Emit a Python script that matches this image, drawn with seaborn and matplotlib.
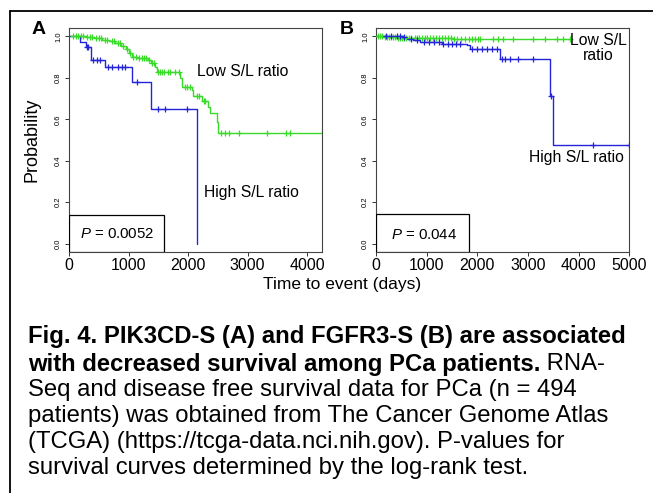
import numpy as np
import pandas as pd
import matplotlib
matplotlib.use("Agg")
import matplotlib.pyplot as plt
from matplotlib.lines import Line2D
from matplotlib.patches import Rectangle
import seaborn as sns

# Panel A (PIK3CD-S) - Kaplan-Meier steps
a_low_t = [0, 280, 420, 550, 680, 780, 880, 950, 1000, 1050, 1150, 1330, 1370, 1450, 1480,
           1865, 1895, 2060, 2090, 2230, 2340, 2370, 2480, 2510, 4250]
a_low_s = [1.0, 0.995, 0.99, 0.982, 0.975, 0.966, 0.955, 0.94, 0.92, 0.90, 0.895, 0.886, 0.87,
           0.85, 0.83, 0.80, 0.755, 0.74, 0.71, 0.686, 0.66, 0.63, 0.585, 0.535, 0.535]
a_low_cens = [60, 110, 150, 200, 240, 310, 350, 390, 450, 500, 530, 600, 640, 720, 760, 820,
              860, 910, 980, 1020, 1080, 1120, 1180, 1220, 1260, 1300, 1350, 1400, 1430, 1500,
              1530, 1560, 1600, 1660, 1700, 1780, 1840, 1950, 1990, 2030, 2150, 2180, 2260,
              2290, 2560, 2620, 2680, 2850, 3330, 3640, 3720]
a_high_t = [0, 185, 280, 370, 605, 1053, 1378, 2157]
a_high_s = [1.0, 0.974, 0.95, 0.886, 0.854, 0.782, 0.648, 0.0]
a_high_cens = [300, 325, 409, 465, 521, 661, 717, 829, 885, 941, 1137, 1501, 1613, 1978]

# Panel B (FGFR3-S)
b_low_t = [0, 150, 400, 740, 1500, 3830]
b_low_s = [1.0, 0.997, 0.994, 0.99, 0.988, 0.988]
b_low_cens = [40, 80, 120, 170, 210, 250, 290, 330, 370, 430, 470, 510, 560, 600, 650, 700,
              760, 800, 850, 900, 960, 1010, 1060, 1120, 1180, 1240, 1300, 1360, 1420, 1480,
              1540, 1600, 1680, 1750, 1830, 1900, 1960, 2020, 2060, 2316, 2415, 2513, 2710,
              3105, 3336, 3566, 3697, 3830]
b_high_t = [0, 540, 620, 740, 870, 1300, 1790, 1855, 2447, 3441, 3487, 5000]
b_high_s = [1.0, 0.995, 0.989, 0.98, 0.973, 0.965, 0.957, 0.937, 0.89, 0.714, 0.476, 0.476]
b_high_cens = [200, 300, 420, 480, 560, 700, 800, 950, 1050, 1150, 1250, 1329, 1420, 1500,
               1580, 1650, 1888, 1987, 2086, 2184, 2283, 2382, 2480, 2546, 2645, 2809, 3105,
               3460, 4283, 5000]

GREEN = "#38dc28"
BLUE = "#2424d8"
W, H = 653, 493

sns.set_theme(style="white")
plt.rcParams["font.family"] = ["Liberation Sans", "DejaVu Sans"]
plt.rcParams["mathtext.fontset"] = "custom"
plt.rcParams["mathtext.it"] = "Liberation Sans:italic"
plt.rcParams["mathtext.rm"] = "Liberation Sans"
for key in ["text.color", "axes.labelcolor", "xtick.color", "ytick.color"]:
    plt.rcParams[key] = "black"


def censor_y(times, surv, cens):
    idx = np.searchsorted(times, cens, side="right") - 1
    return np.asarray(surv)[idx]


def km_curve(ax, times, surv, cens, color):
    df = pd.DataFrame({"t": times, "s": surv})
    sns.lineplot(data=df, x="t", y="s", ax=ax, color=color, lw=1.0,
                 drawstyle="steps-post", estimator=None, sort=False)
    cdf = pd.DataFrame({"t": cens, "s": censor_y(times, surv, cens)})
    sns.scatterplot(data=cdf, x="t", y="s", ax=ax, marker="+", color=color,
                    s=24, linewidth=0.9, zorder=3)


def style_axes(ax, xmax, xticks):
    ax.set_xlim(0, xmax)
    ax.set_ylim(-0.04, 1.04)
    ax.set_xticks(xticks)
    ax.set_xticklabels([str(x) for x in xticks], fontsize=11.5)
    ax.set_yticks([0, 0.2, 0.4, 0.6, 0.8, 1.0])
    ax.set_yticklabels(["0.0", "0.2", "0.4", "0.6", "0.8", "1.0"], fontsize=5.5,
                       rotation=90, va="center")
    ax.tick_params(axis="both", direction="out", length=3, width=0.7,
                   color="#333333", left=True, bottom=True)
    ax.tick_params(axis="x", pad=1.5)
    ax.tick_params(axis="y", pad=2)
    for sp in ax.spines.values():
        sp.set_color("#444444")
        sp.set_linewidth(0.8)
    ax.set_xlabel("")
    ax.set_ylabel("")


fig = plt.figure(figsize=(W / 100, H / 100), dpi=100)

axA = fig.add_axes([69 / W, 1 - 252 / H, 253 / W, 224 / H])
axB = fig.add_axes([376 / W, 1 - 252 / H, 253.3 / W, 224 / H])

km_curve(axA, a_low_t, a_low_s, a_low_cens, GREEN)
km_curve(axA, a_high_t, a_high_s, a_high_cens, BLUE)
style_axes(axA, 4250, [0, 1000, 2000, 3000, 4000])
axA.add_patch(Rectangle((0, -0.04), 1600, 0.18, facecolor="white", edgecolor="black",
                        lw=0.9, zorder=4))
axA.text(807, 0.048, "$P$ = 0.0052", fontsize=10.8, ha="center", va="center", zorder=5)
axA.text(2150, 0.83, "Low S/L ratio", fontsize=11.3, ha="left", va="center")
axA.text(2270, 0.245, "High S/L ratio", fontsize=11.3, ha="left", va="center")
axA.set_ylabel("Probability", fontsize=13)
axA.yaxis.set_label_coords(-(69 - 40) / 253, 0.5)

km_curve(axB, b_low_t, b_low_s, b_low_cens, GREEN)
km_curve(axB, b_high_t, b_high_s, b_high_cens, BLUE)
style_axes(axB, 5000, [0, 1000, 2000, 3000, 4000, 5000])
axB.add_patch(Rectangle((0, -0.04), 1840, 0.185, facecolor="white", edgecolor="black",
                        lw=0.9, zorder=4))
axB.text(950, 0.044, "$P$ = 0.044", fontsize=10.8, ha="center", va="center", zorder=5)
axB.text(4390, 0.945, "Low S/L\nratio", fontsize=11.3, ha="center", va="center",
         linespacing=1.0)
axB.text(3960, 0.416, "High S/L ratio", fontsize=11.3, ha="center", va="center")

# panel letters and shared x label
fig.text(39 / W, 1 - 30 / H, "A", fontsize=14, fontweight="bold", ha="center", va="center")
fig.text(347 / W, 1 - 29 / H, "B", fontsize=14, fontweight="bold", ha="center", va="center")
fig.text(342 / W, 1 - 284 / H, "Time to event (days)", fontsize=12.5, ha="center", va="center")

# outer frame (top and left edges only)
fig.add_artist(Line2D([10 / W, 1], [1 - 11 / H, 1 - 11 / H], transform=fig.transFigure,
                      color="black", lw=1.3))
fig.add_artist(Line2D([10 / W, 10 / W], [0, 1 - 11 / H], transform=fig.transFigure,
                      color="black", lw=1.3))

# caption: bold heading runs into regular text on line 2
cap_size = 17.2
x0 = 28 / W
rows = [
    ("Fig. 4. PIK3CD-S (A) and FGFR3-S (B) are associated", ""),
    ("with decreased survival among PCa patients.", " RNA-"),
    ("", "Seq and disease free survival data for PCa (n = 494"),
    ("", "patients) was obtained from The Cancer Genome Atlas"),
    ("", "(TCGA) (https://tcga-data.nci.nih.gov). P-values for"),
    ("", "survival curves determined by the log-rank test."),
]
row_y = [337, 364, 390, 416, 442, 468]
renderer = fig.canvas.get_renderer()
for (bold, plain), yy in zip(rows, row_y):
    x = x0
    if bold:
        t = fig.text(x, 1 - yy / H, bold, fontsize=cap_size, fontweight="bold",
                     ha="left", va="center")
        bb = t.get_window_extent(renderer=renderer)
        x = bb.x1 / W
    if plain:
        fig.text(x, 1 - yy / H, plain, fontsize=cap_size, ha="left", va="center")

fig.savefig("out.png", dpi=100)
